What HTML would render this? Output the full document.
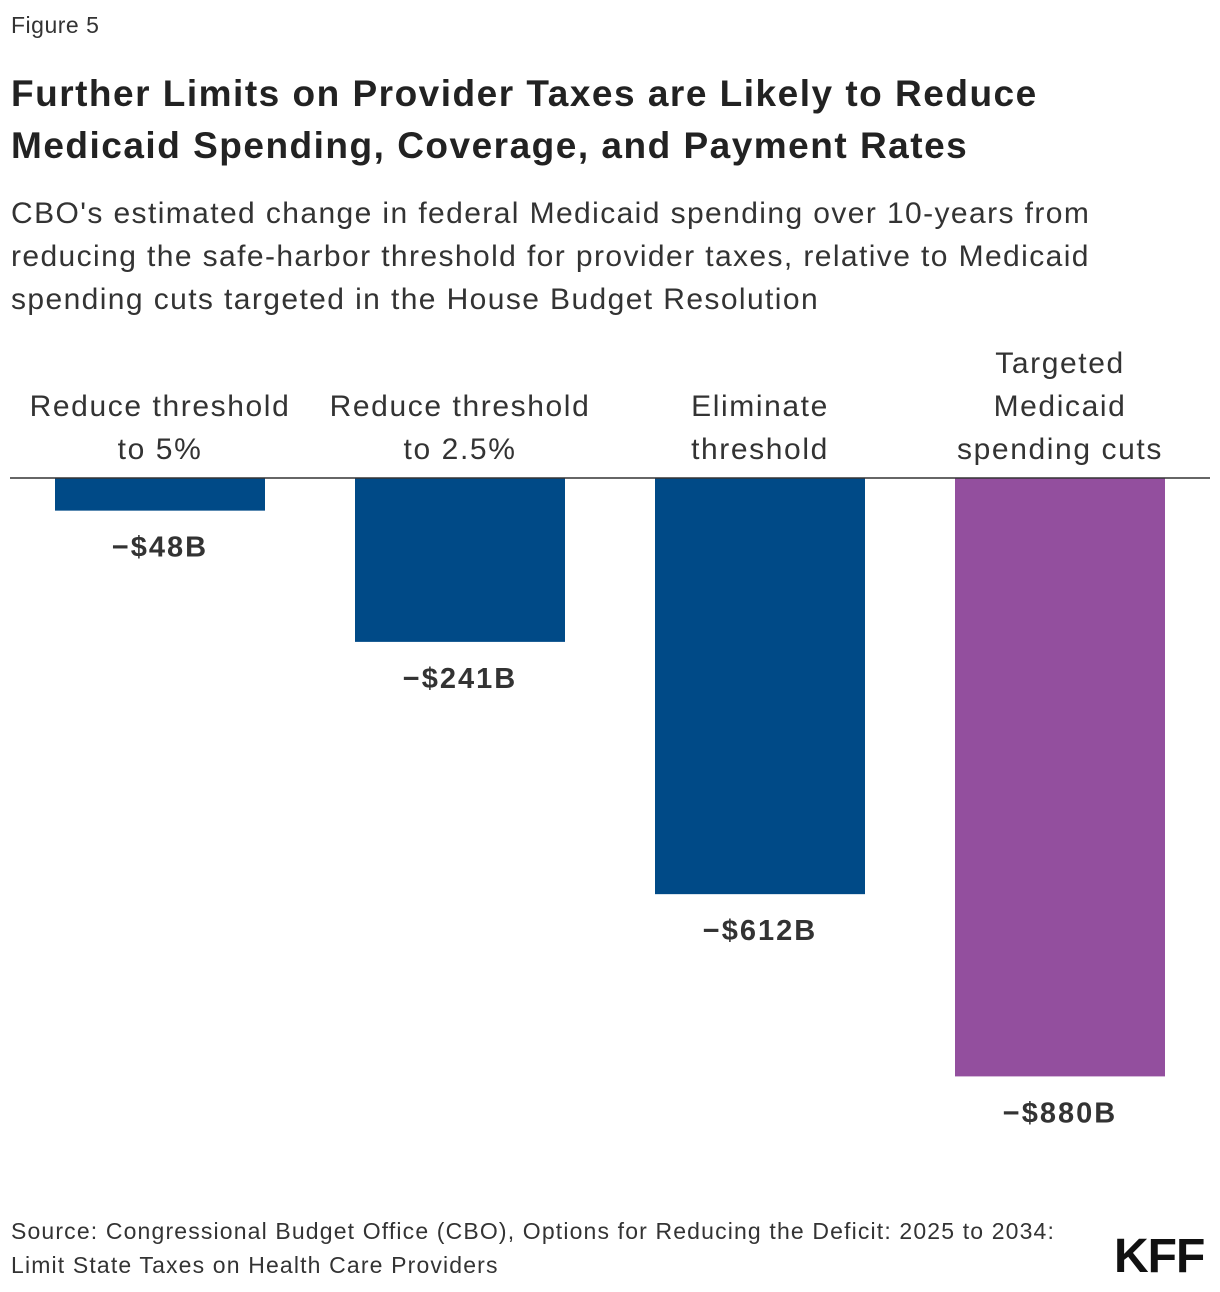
<!DOCTYPE html>
<html><head><meta charset="utf-8"><style>
body{margin:0;width:1220px;height:1292px;background:#fff;font-family:"Liberation Sans",sans-serif;color:#222;position:relative;overflow:hidden}
.t{position:absolute;left:11px;white-space:nowrap}
</style></head><body>
<div class="t" style="top:12px;font-size:23px;color:#333;letter-spacing:0.5px">Figure 5</div>
<div class="t" style="top:68px;font-size:37px;font-weight:bold;line-height:52px;color:#222;letter-spacing:1.5px">Further Limits on Provider Taxes are Likely to Reduce<br>Medicaid Spending, Coverage, and Payment Rates</div>
<div class="t" style="top:192px;font-size:30px;line-height:43px;color:#333;letter-spacing:1.4px">CBO's estimated change in federal Medicaid spending over 10-years from<br>reducing the safe-harbor threshold for provider taxes, relative to Medicaid<br>spending cuts targeted in the House Budget Resolution</div>
<svg id="chart" width="1220" height="1292" style="position:absolute;left:0;top:0"></svg>
<div class="t" style="top:1214px;font-size:23px;line-height:34px;color:#333;letter-spacing:1.15px">Source: Congressional Budget Office (CBO), Options for Reducing the Deficit: 2025 to 2034:<br>Limit State Taxes on Health Care Providers</div>
<div style="position:absolute;left:1114px;top:1229px;font-size:48px;font-weight:bold;color:#111;letter-spacing:-1px">KFF</div>
<script>
const categories=[["Reduce threshold","to 5%"],["Reduce threshold","to 2.5%"],["Eliminate","threshold"],["Targeted","Medicaid","spending cuts"]];
const values=[-48,-241,-612,-880];
const valueLabels=["−$48B","−$241B","−$612B","−$880B"];
const colors=["#004a87","#004a87","#004a87","#934f9e"];
const svg=document.getElementById('chart');
const NS="http://www.w3.org/2000/svg";
const base=478,scale=0.68,bw=210;
const xPos=i=>55+i*300;
const yPos=v=>base-v*scale;
function mk(t,a){const e=document.createElementNS(NS,t);for(const k in a)e.setAttribute(k,a[k]);svg.appendChild(e);return e;}
values.forEach((v,i)=>{
 const r=mk('rect',{x:xPos(i),y:base,width:bw,height:yPos(v)-base,fill:colors[i]});
 
 
 const t=mk('text',{x:xPos(i)+bw/2,y:yPos(v)+46,'text-anchor':'middle','font-size':29,'font-weight':'bold',fill:'#333','font-family':'Liberation Sans, sans-serif','letter-spacing':2});
 t.textContent=valueLabels[i];
 
 
 const lines=categories[i];
 lines.forEach((ln,j)=>{
  const c=mk('text',{x:xPos(i)+bw/2,y:459-(lines.length-1-j)*43,'text-anchor':'middle','font-size':30,fill:'#333','font-family':'Liberation Sans, sans-serif','letter-spacing':1.6});
  c.textContent=ln;
  
  
 });
});
const ax=mk('line',{x1:10,x2:1210,y1:base,y2:base,stroke:'#333','stroke-width':1.5});


</script>
</body></html>
